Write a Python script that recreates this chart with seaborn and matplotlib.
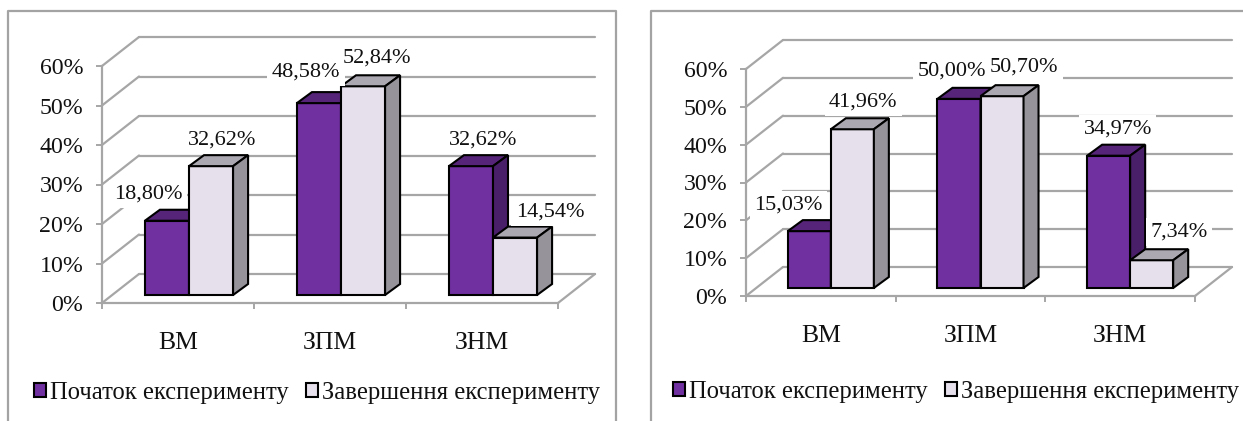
import matplotlib
matplotlib.use("Agg")
import matplotlib.pyplot as plt
from matplotlib.lines import Line2D
from matplotlib.patches import Polygon, Patch
from matplotlib.transforms import IdentityTransform
import pandas as pd
import seaborn as sns

# ---- data ----
categories = ["ВМ", "ЗПМ", "ЗНМ"]
series_names = ["Початок експерименту", "Завершення експерименту"]
left_start = [18.80, 48.58, 32.62]
left_end = [32.62, 52.84, 14.54]
right_start = [15.03, 50.00, 34.97]
right_end = [41.96, 50.70, 7.34]
y_ticks = [0, 10, 20, 30, 40, 50, 60]

# ---- style ----
W, H, DPI = 1243, 421, 100
FRONT = ["#7030A0", "#E6E0EC"]
TOP = ["#562478", "#ACA8B2"]
SIDE = ["#4A1F69", "#96939B"]
GRID = "#A6A6A6"
FRAME = "#A3A3A3"
INK = "#111111"
FS_TICK, FS_LABEL, FS_CAT, FS_LEG = 17.2, 16, 18.5, 17.7

sns.set_theme(style="white")
plt.rcParams["font.family"] = ["Liberation Serif", "DejaVu Serif"]
plt.rcParams["text.color"] = INK

fig = plt.figure(figsize=(W / DPI, H / DPI), dpi=DPI, facecolor="white")


def panel(start, end, x0, x1, y0, y60, wall, bar_plane, bar_frac, frame,
          shifts, legend_xy, leg_gap):
    ax = fig.add_axes([x0 / W, 1 - y0 / H, (x1 - x0) / W, (y0 - y60) / H])
    ax.patch.set_visible(False)
    df = pd.DataFrame({
        "cat": categories * 2,
        "val": list(start) + list(end),
        "stage": [series_names[0]] * 3 + [series_names[1]] * 3,
    })
    sns.barplot(data=df, x="cat", y="val", hue="stage", order=categories,
                hue_order=series_names, palette=FRONT, saturation=1,
                width=bar_frac, gap=0, edgecolor="black", linewidth=1.5,
                legend=False, ax=ax, zorder=5)
    ax.set_xlim(-0.5, 2.5)
    ax.set_ylim(0, 60)
    ax.set_xlabel("")
    ax.set_ylabel("")

    px_x = (x1 - x0) / 3
    px_y = (y0 - y60) / 60
    wall_x, wall_y = wall[0] / px_x, wall[1] / px_y

    # back wall, side wall and floor edge
    for v in y_ticks:
        ax.plot([-0.5 + wall_x, 2.5 + wall_x], [v + wall_y] * 2, color=GRID,
                lw=1.6, clip_on=False, zorder=1)
        ax.plot([-0.5, -0.5 + wall_x], [v, v + wall_y], color=GRID,
                lw=1.6, clip_on=False, zorder=1)
    ax.plot([2.5, 2.5 + wall_x], [0, wall_y], color=GRID, lw=1.6,
            clip_on=False, zorder=1)

    # extruded bars built on seaborn's own bar patches
    plane_x, plane_y = bar_plane[0] / px_x, bar_plane[1] / px_y
    depth_x, depth_y = 15 / px_x, 11 / px_y
    for s, cont in enumerate(ax.containers):
        for i, bar in enumerate(cont):
            bar.set_x(bar.get_x() + plane_x)
            bar.set_y(plane_y)
            bar.set_zorder(5 + s)
            bar.set_clip_on(False)
            xa, w, h = bar.get_x(), bar.get_width(), bar.get_height()
            xb, yb, yt = xa + w, plane_y, plane_y + h
            top = [(xa, yt), (xb, yt), (xb + depth_x, yt + depth_y),
                   (xa + depth_x, yt + depth_y)]
            side = [(xb, yb), (xb + depth_x, yb + depth_y),
                    (xb + depth_x, yt + depth_y), (xb, yt)]
            for pts, col in ((top, TOP[s]), (side, SIDE[s])):
                ax.add_patch(Polygon(pts, closed=True, facecolor=col,
                                     edgecolor="black", lw=1.5,
                                     clip_on=False, zorder=5 + s))
            label = f"{h:.2f}%".replace(".", ",")
            sx, sy = shifts[s][i]
            ax.annotate(label, (xa + w / 2, yt), xytext=(sx, sy - 2),
                        textcoords="offset pixels", ha="center", va="center",
                        fontsize=FS_LABEL, zorder=10, annotation_clip=False,
                        bbox=dict(boxstyle="square,pad=0.2", fc="white",
                                  ec="none"))

    # axes
    for name in ("top", "right"):
        ax.spines[name].set_visible(False)
    for name in ("left", "bottom"):
        ax.spines[name].set_color(GRID)
        ax.spines[name].set_linewidth(1.6)
        ax.spines[name].set_zorder(2)
    ax.set_yticks(y_ticks, [f"{v}%" for v in y_ticks])
    ax.tick_params(axis="y", left=True, length=4.5, width=1.4, color=GRID,
                   pad=9, labelsize=FS_TICK, labelcolor=INK)
    ax.set_xticks([-0.5, 0.5, 1.5, 2.5], ["", "", "", ""])
    ax.set_xticks([0, 1, 2], categories, minor=True)
    ax.tick_params(axis="x", which="major", bottom=True, length=4.5, width=1.4,
                   color=GRID)
    ax.tick_params(axis="x", which="minor", bottom=False, length=0, pad=21,
                   labelsize=FS_CAT, labelcolor=INK)

    # legend
    handles = [Patch(facecolor=c, edgecolor="black", lw=1.5) for c in FRONT]
    px_em = FS_LEG * DPI / 72
    fig.legend(handles, series_names, ncols=2, frameon=False, fontsize=FS_LEG,
               loc="center left", bbox_to_anchor=(legend_xy[0], H - legend_xy[1]),
               bbox_transform=IdentityTransform(), borderpad=0, borderaxespad=0,
               handlelength=12 / px_em, handleheight=12 / px_em,
               handletextpad=4 / px_em, columnspacing=leg_gap / px_em)

    # chart-area frame, open where the picture is cropped
    fig.add_artist(Line2D([p[0] / W for p in frame],
                          [1 - p[1] / H for p in frame], color=FRAME, lw=1.6))


panel(left_start, left_end, 102, 558, 303, 66, (37, 29), (11, 8), 0.58,
      [(8, 421), (8, 11), (616, 11), (616, 421)],
      [[(-19, 29), (-13, 33), (12, 28)], [(11, 28), (14, 30), (35, 28)]],
      (34, 393), 17)

panel(right_start, right_end, 746, 1195, 296, 69, (37, 29), (10, 8), 0.575,
      [(651, 421), (651, 11), (1243, 11)],
      [[(-21, 28), (-7, 30), (9, 29)], [(11, 29), (22, 31), (27, 30)]],
      (673, 392), 17)

fig.savefig("out.png", dpi=DPI, facecolor="white")
